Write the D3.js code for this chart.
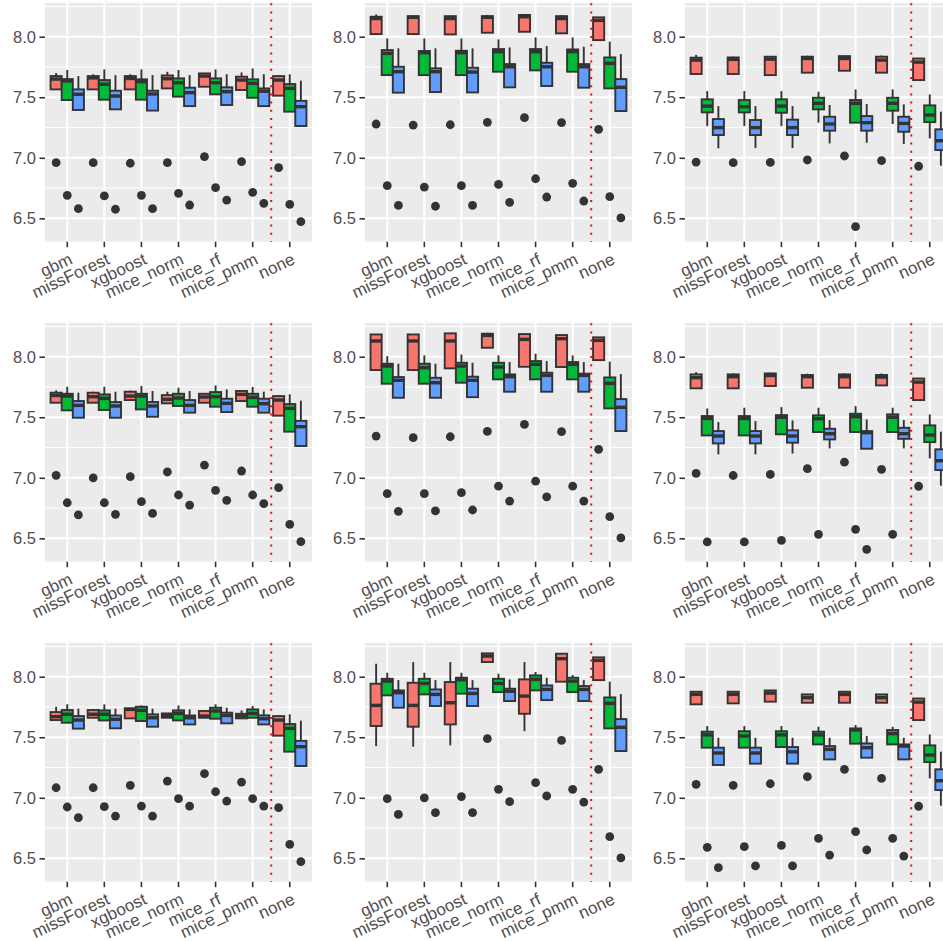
<!DOCTYPE html>
<html><head><meta charset="utf-8">
<script src="https://cdn.jsdelivr.net/npm/d3@7"></script>
<style>body{margin:0;background:#fff;overflow:hidden} svg{display:block}</style>
</head><body>
<svg id="chart" width="943" height="941"></svg>
<script>
// categories and series
const categories = ["gbm","missForest","xgboost","mice_norm","mice_rf","mice_pmm","none"];
const seriesNames = ["s1","s2","s3"];
const seriesColors = ["#F8766D","#00BA38","#619CFF"];
const yTicks = [6.5, 7.0, 7.5, 8.0];
const yMinor = [6.75, 7.25, 7.75, 8.25];
const yDomain = [6.307, 8.281];

// each entry: [lowerWhisker, q1, median, q3, upperWhisker, outlier]
// "none" (shared per column)
const none_c1_s1 = [7.513, 7.513, 7.642, 7.675, 7.675, 6.918];
const none_c1_s2 = [7.381, 7.381, 7.573, 7.609, 7.690, 6.615];
const none_c1_s3 = [7.262, 7.262, 7.422, 7.470, 7.637, 6.472];
const none_c2_s1 = [7.972, 7.972, 8.135, 8.160, 8.160, 7.235];
const none_c2_s2 = [7.573, 7.573, 7.780, 7.829, 7.959, 6.679];
const none_c2_s3 = [7.386, 7.386, 7.582, 7.650, 7.857, 6.503];
const none_c3_s1 = [7.642, 7.642, 7.790, 7.820, 7.820, 6.930];
const none_c3_s2 = [7.160, 7.295, 7.353, 7.433, 7.524, null];
const none_c3_s3 = [6.935, 7.064, 7.141, 7.235, 7.381, null];

// panel row1 col1
const p11_s1 = [[7.565,7.565,7.650,7.675,7.700,6.960],[7.565,7.565,7.660,7.675,7.690,6.960],[7.565,7.565,7.655,7.675,7.690,6.955],[7.573,7.573,7.653,7.680,7.710,6.960],[7.587,7.587,7.675,7.697,7.697,7.009],[7.560,7.560,7.642,7.670,7.705,6.968]];
const p11_s2 = [[7.477,7.477,7.635,7.650,7.725,6.690],[7.480,7.480,7.607,7.642,7.730,6.685],[7.480,7.480,7.628,7.648,7.730,6.690],[7.505,7.505,7.620,7.656,7.725,6.706],[7.524,7.524,7.620,7.656,7.730,6.753],[7.496,7.496,7.615,7.648,7.738,6.715]];
const p11_s3 = [[7.395,7.395,7.524,7.565,7.675,6.580],[7.400,7.400,7.510,7.554,7.683,6.575],[7.390,7.390,7.527,7.554,7.683,6.580],[7.427,7.427,7.538,7.579,7.683,6.610],[7.436,7.436,7.546,7.582,7.690,6.651],[7.427,7.427,7.550,7.573,7.690,6.624]];
// row1 col2
const p12_s1 = [[8.022,8.022,8.150,8.165,8.184,7.279],[8.022,8.022,8.160,8.170,8.175,7.270],[8.019,8.019,8.150,8.170,8.175,7.273],[8.033,8.033,8.160,8.170,8.180,7.293],[8.041,8.041,8.165,8.180,8.180,7.331],[8.028,8.028,8.150,8.170,8.178,7.290]];
const p12_s2 = [[7.683,7.683,7.862,7.890,7.986,6.770],[7.683,7.683,7.868,7.882,7.986,6.758],[7.683,7.683,7.868,7.884,7.986,6.770],[7.711,7.711,7.876,7.898,7.978,6.780],[7.722,7.722,7.876,7.898,7.994,6.827],[7.711,7.711,7.876,7.895,7.994,6.789]];
const p12_s3 = [[7.538,7.538,7.711,7.752,7.904,6.607],[7.543,7.543,7.711,7.739,7.904,6.600],[7.540,7.540,7.708,7.744,7.904,6.607],[7.582,7.582,7.752,7.774,7.912,6.632],[7.593,7.593,7.752,7.785,7.923,6.676],[7.579,7.579,7.752,7.774,7.917,6.643]];
// row1 col3
const p13_s1 = [[7.692,7.692,7.807,7.827,7.850,6.965],[7.692,7.692,7.813,7.829,7.835,6.960],[7.683,7.683,7.815,7.835,7.840,6.962],[7.703,7.703,7.820,7.835,7.843,6.982],[7.719,7.719,7.820,7.840,7.840,7.015],[7.703,7.703,7.807,7.835,7.845,6.976]];
const p13_s2 = [[7.262,7.375,7.427,7.483,7.551,null],[7.262,7.375,7.422,7.477,7.551,null],[7.262,7.372,7.427,7.483,7.551,null],[7.290,7.400,7.450,7.496,7.546,null],[7.290,7.290,7.450,7.477,7.565,6.431],[7.279,7.389,7.450,7.496,7.565,null]];
const p13_s3 = [[7.078,7.188,7.249,7.320,7.427,null],[7.080,7.188,7.249,7.312,7.427,null],[7.080,7.188,7.249,7.315,7.427,null],[7.119,7.224,7.279,7.339,7.436,null],[7.125,7.224,7.290,7.345,7.444,null],[7.114,7.215,7.284,7.339,7.441,null]];
// row2 col1
const p21_s1 = [[7.620,7.620,7.680,7.703,7.722,7.020],[7.620,7.620,7.670,7.703,7.711,7.000],[7.642,7.642,7.675,7.711,7.720,7.009],[7.615,7.615,7.648,7.683,7.711,7.048],[7.620,7.620,7.667,7.694,7.694,7.105],[7.634,7.634,7.689,7.717,7.717,7.056]];
const p21_s2 = [[7.557,7.557,7.675,7.694,7.752,6.794],[7.560,7.560,7.656,7.689,7.752,6.794],[7.565,7.565,7.675,7.694,7.758,6.803],[7.593,7.593,7.659,7.694,7.744,6.858],[7.587,7.587,7.670,7.708,7.763,6.896],[7.587,7.587,7.664,7.694,7.750,6.858]];
const p21_s3 = [[7.496,7.496,7.598,7.634,7.703,6.693],[7.496,7.496,7.593,7.626,7.711,6.698],[7.504,7.504,7.593,7.626,7.717,6.706],[7.538,7.538,7.598,7.642,7.717,6.775],[7.543,7.543,7.615,7.653,7.730,6.814],[7.538,7.538,7.612,7.653,7.711,6.786]];
// row2 col2
const p22_s1 = [[7.890,7.890,8.130,8.184,8.184,7.345],[7.890,7.890,8.130,8.184,8.184,7.331],[7.904,7.904,8.130,8.193,8.193,7.339],[8.074,8.074,8.176,8.190,8.198,7.383],[7.917,7.917,8.143,8.187,8.187,7.441],[7.915,7.915,8.149,8.179,8.179,7.381]];
const p22_s2 = [[7.777,7.777,7.923,7.942,8.005,6.869],[7.777,7.777,7.909,7.942,8.011,6.869],[7.785,7.785,7.923,7.950,8.019,6.877],[7.813,7.813,7.915,7.950,8.011,6.931],[7.813,7.813,7.937,7.964,8.025,6.972],[7.813,7.813,7.937,7.956,8.011,6.931]];
const p22_s3 = [[7.661,7.661,7.805,7.832,7.942,6.723],[7.661,7.661,7.785,7.826,7.942,6.726],[7.666,7.666,7.805,7.835,7.950,6.734],[7.711,7.711,7.835,7.854,7.956,6.808],[7.711,7.711,7.846,7.868,7.964,6.843],[7.711,7.711,7.846,7.860,7.956,6.808]];
// row2 col3
const p23_s1 = [[7.739,7.739,7.827,7.854,7.873,7.036],[7.739,7.739,7.835,7.854,7.862,7.019],[7.758,7.758,7.845,7.862,7.868,7.028],[7.744,7.744,7.835,7.849,7.860,7.075],[7.744,7.744,7.835,7.854,7.862,7.129],[7.763,7.763,7.832,7.849,7.862,7.070]];
const p23_s2 = [[7.350,7.350,7.490,7.510,7.573,6.470],[7.350,7.350,7.490,7.510,7.579,6.470],[7.359,7.359,7.500,7.518,7.584,6.483],[7.378,7.378,7.488,7.516,7.579,6.533],[7.378,7.378,7.505,7.529,7.592,6.574],[7.378,7.378,7.500,7.524,7.579,6.533]];
const p23_s3 = [[7.194,7.284,7.345,7.386,7.460,null],[7.194,7.284,7.345,7.386,7.468,null],[7.200,7.290,7.345,7.392,7.474,null],[7.243,7.317,7.364,7.405,7.477,null],[7.240,7.240,7.372,7.386,7.482,6.409],[7.243,7.322,7.364,7.413,7.477,null]];
// row3 col1
const p31_s1 = [[7.642,7.642,7.670,7.708,7.752,7.083],[7.661,7.661,7.690,7.725,7.725,7.083],[7.656,7.656,7.730,7.739,7.739,7.103],[7.661,7.661,7.681,7.697,7.697,7.138],[7.661,7.661,7.675,7.717,7.717,7.200],[7.656,7.656,7.675,7.694,7.722,7.130]];
const p31_s2 = [[7.620,7.620,7.689,7.725,7.772,6.924],[7.639,7.639,7.690,7.722,7.772,6.927],[7.634,7.634,7.722,7.752,7.763,6.932],[7.639,7.639,7.697,7.722,7.763,6.993],[7.653,7.653,7.717,7.744,7.772,7.050],[7.661,7.661,7.697,7.730,7.758,6.993]];
const p31_s3 = [[7.571,7.571,7.642,7.675,7.736,6.836],[7.574,7.574,7.648,7.680,7.736,6.849],[7.587,7.587,7.661,7.689,7.736,6.849],[7.606,7.606,7.661,7.680,7.730,6.932],[7.615,7.615,7.680,7.703,7.744,6.973],[7.606,7.606,7.653,7.681,7.730,6.932]];
// row3 col2
const p32_s1 = [[7.427,7.593,7.763,7.942,8.107,null],[7.422,7.587,7.763,7.950,8.121,null],[7.433,7.606,7.785,7.956,8.121,null],[8.121,8.121,8.171,8.193,8.193,7.488],[7.551,7.694,7.840,7.978,8.121,null],[7.959,7.959,8.149,8.190,8.190,7.474]];
const p32_s2 = [[7.846,7.846,7.964,7.983,8.033,6.993],[7.854,7.854,7.945,7.983,8.033,7.000],[7.860,7.860,7.975,7.992,8.033,7.009],[7.873,7.873,7.945,7.983,8.025,7.070],[7.887,7.887,7.978,8.011,8.039,7.125],[7.873,7.873,7.964,7.992,8.014,7.070]];
const p32_s3 = [[7.744,7.744,7.868,7.887,7.972,6.863],[7.758,7.758,7.854,7.895,7.972,6.877],[7.758,7.758,7.862,7.901,7.972,6.877],[7.799,7.799,7.880,7.901,7.978,6.968],[7.807,7.807,7.895,7.928,7.992,7.015],[7.799,7.799,7.895,7.923,7.972,6.965]];
// row3 col3
const p33_s1 = [[7.772,7.772,7.854,7.876,7.882,7.111],[7.780,7.780,7.854,7.876,7.876,7.103],[7.794,7.794,7.865,7.887,7.887,7.116],[7.785,7.785,7.827,7.854,7.854,7.174],[7.785,7.785,7.854,7.876,7.876,7.235],[7.785,7.785,7.827,7.854,7.854,7.160]];
const p33_s2 = [[7.414,7.414,7.520,7.546,7.593,6.591],[7.414,7.414,7.510,7.550,7.593,6.596],[7.419,7.419,7.520,7.550,7.593,6.607],[7.441,7.441,7.520,7.546,7.587,6.665],[7.447,7.447,7.560,7.573,7.601,6.720],[7.441,7.441,7.530,7.560,7.587,6.665]];
const p33_s3 = [[7.271,7.271,7.370,7.414,7.496,6.423],[7.282,7.282,7.370,7.414,7.496,6.437],[7.282,7.282,7.380,7.419,7.496,6.437],[7.317,7.317,7.400,7.427,7.496,6.527],[7.331,7.331,7.414,7.449,7.510,6.569],[7.317,7.317,7.427,7.441,7.496,6.519]];

const noneByCol = [[none_c1_s1,none_c1_s2,none_c1_s3],[none_c2_s1,none_c2_s2,none_c2_s3],[none_c3_s1,none_c3_s2,none_c3_s3]];
const panelSeries = [
  [[p11_s1,p11_s2,p11_s3],[p12_s1,p12_s2,p12_s3],[p13_s1,p13_s2,p13_s3]],
  [[p21_s1,p21_s2,p21_s3],[p22_s1,p22_s2,p22_s3],[p23_s1,p23_s2,p23_s3]],
  [[p31_s1,p31_s2,p31_s3],[p32_s1,p32_s2,p32_s3],[p33_s1,p33_s2,p33_s3]]
];

// layout
const cellW = 320, cellH = 320;
const plotL = 45, plotT = 2.7, plotW = 267, plotH = 239;
const FONT = "'Liberation Sans', Arial, Helvetica, sans-serif";

const svg = d3.select("#chart");

const x = d3.scaleBand().domain(categories).range([0, plotW]).paddingInner(0).paddingOuter(0.1);
const sub = d3.scaleBand().domain(seriesNames).range([-0.45 * x.bandwidth(), 0.45 * x.bandwidth()]);
const y = d3.scaleLinear().domain(yDomain).range([plotH, 0]);
const cx = c => x(c) + x.bandwidth() / 2;

for (let r = 0; r < 3; r++) {
  for (let c = 0; c < 3; c++) {
    const g = svg.append("g").attr("transform", `translate(${c * cellW + plotL},${r * cellH + plotT})`);
    g.append("rect").attr("width", plotW).attr("height", plotH).attr("fill", "#EBEBEB");
    g.selectAll(".ymin").data(yMinor).join("line")
      .attr("x1", 0).attr("x2", plotW).attr("y1", d => y(d)).attr("y2", d => y(d))
      .attr("stroke", "#fff").attr("stroke-width", 1);
    g.selectAll(".ymaj").data(yTicks).join("line")
      .attr("x1", 0).attr("x2", plotW).attr("y1", d => y(d)).attr("y2", d => y(d))
      .attr("stroke", "#fff").attr("stroke-width", 2);
    g.selectAll(".xmaj").data(categories).join("line")
      .attr("x1", d => cx(d)).attr("x2", d => cx(d)).attr("y1", 0).attr("y2", plotH)
      .attr("stroke", "#fff").attr("stroke-width", 2);

    const series = panelSeries[r][c];
    seriesNames.forEach((s, si) => {
      const rows = series[si].concat([noneByCol[c][si]]);
      const bw = sub.bandwidth();
      rows.forEach((st, i) => {
        const cat = categories[i];
        const left = cx(cat) + sub(s);
        const mid = left + bw / 2;
        const [lo, q1, med, q3, hi, out] = st;
        const bg = g.append("g");
        if (hi > q3) bg.append("line").attr("x1", mid).attr("x2", mid).attr("y1", y(q3)).attr("y2", y(hi))
          .attr("stroke", "#333").attr("stroke-width", 1.9);
        if (lo < q1) bg.append("line").attr("x1", mid).attr("x2", mid).attr("y1", y(q1)).attr("y2", y(lo))
          .attr("stroke", "#333").attr("stroke-width", 1.9);
        bg.append("rect").attr("x", left).attr("width", bw).attr("y", y(q3)).attr("height", y(q1) - y(q3))
          .attr("fill", seriesColors[si]).attr("stroke", "#333").attr("stroke-width", 1.9);
        bg.append("line").attr("x1", left).attr("x2", left + bw).attr("y1", y(med)).attr("y2", y(med))
          .attr("stroke", "#333").attr("stroke-width", 3.4);
        if (out != null) bg.append("circle").attr("cx", mid).attr("cy", y(out)).attr("r", 4.4).attr("fill", "#333");
      });
    });

    const sepX = (cx("mice_pmm") + cx("none")) / 2;
    g.append("line").attr("x1", sepX).attr("x2", sepX).attr("y1", 0).attr("y2", plotH)
      .attr("stroke", "#FF0000").attr("stroke-width", 2).attr("stroke-dasharray", "2,6.2")
      .attr("stroke-dashoffset", -0.5);

    const ya = g.append("g").call(d3.axisLeft(y).tickValues(yTicks).tickFormat(d3.format(".1f")).tickSize(5.5).tickPadding(3.5));
    ya.select(".domain").remove();
    ya.selectAll(".tick line").attr("stroke", "#333").attr("stroke-width", 1.6);
    ya.selectAll(".tick text").attr("fill", "#4D4D4D").style("font-family", FONT).style("font-size", "16.5px");

    const xa = g.append("g").attr("transform", `translate(0,${plotH})`)
      .call(d3.axisBottom(x).tickSize(5.5).tickPadding(0));
    xa.select(".domain").remove();
    xa.selectAll(".tick line").attr("stroke", "#333").attr("stroke-width", 1.6);
    xa.selectAll(".tick text")
      .attr("fill", "#4D4D4D").style("font-family", FONT).style("font-size", "17px")
      .attr("x", 0).attr("y", 0).attr("dy", "0.75em")
      .attr("text-anchor", "end")
      .attr("transform", "translate(1,10) rotate(-25)");
  }
}
</script>
</body></html>
